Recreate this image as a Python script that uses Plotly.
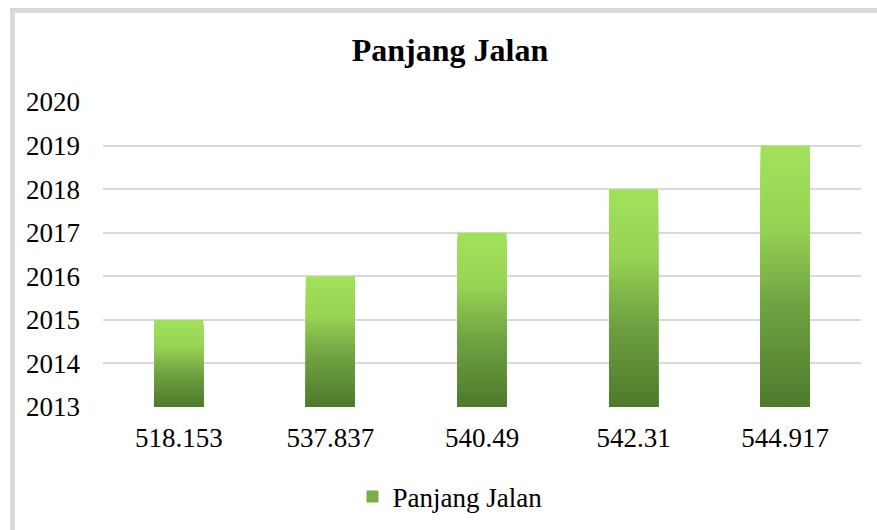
import plotly.graph_objects as go

categories = ["518.153", "537.837", "540.49", "542.31", "544.917"]
values = [2015, 2016, 2017, 2018, 2019]
axis_min = 2013
axis_max = 2020
tick_vals = [2013, 2014, 2015, 2016, 2017, 2018, 2019, 2020]
series_name = "Panjang Jalan"
title_text = "Panjang Jalan"

# gradient stops (position from top 0 -> bottom 1, rgb)
stops = [(0.0, (161, 225, 90)), (0.3, (150, 211, 84)), (0.6, (112, 163, 66)), (1.0, (78, 120, 44))]


def color_at(t):
    for (p0, c0), (p1, c1) in zip(stops[:-1], stops[1:]):
        if p0 <= t <= p1:
            f = (t - p0) / (p1 - p0) if p1 > p0 else 0
            c = [round(a + (b - a) * f) for a, b in zip(c0, c1)]
            return f"rgb({c[0]},{c[1]},{c[2]})"
    c = stops[-1][1]
    return f"rgb({c[0]},{c[1]},{c[2]})"


N = 60
fig = go.Figure()
bar_w = 0.323
# Layered bars: each layer starts at the axis base and is shorter than the previous,
# so colours blend from light (top) to dark (bottom) without gaps.
for k in range(N):
    frac = 1 - k / N
    heights = [(v - axis_min) * frac for v in values]
    fig.add_trace(go.Bar(
        x=categories, y=heights, base=[axis_min] * len(values), width=bar_w,
        marker=dict(color=color_at(k / N), line=dict(width=0)),
        showlegend=False, hoverinfo="skip",
    ))

# legend entry
fig.add_trace(go.Bar(
    x=[categories[0]], y=[0], base=[axis_min], name=series_name,
    marker=dict(color="rgb(120,175,70)", line=dict(width=0)),
    showlegend=True,
))

serif = "Liberation Serif, Times New Roman, serif"

fig.update_layout(
    width=877, height=530,
    margin=dict(l=103, r=16, t=102, b=123),
    paper_bgcolor="white", plot_bgcolor="white",
    barmode="overlay",
    font=dict(family=serif, size=27, color="black"),
    title=dict(text=f"<b>{title_text}</b>", x=450 / 877, xref="container", xanchor="center",
               y=1 - 50 / 530, yref="container", yanchor="middle",
               font=dict(family=serif, size=32, color="black")),
    xaxis=dict(type="category", showgrid=False, showline=False, ticks="",
               tickfont=dict(family=serif, size=27), ticklabelstandoff=12),
    yaxis=dict(range=[axis_min, axis_max], tickvals=tick_vals, showgrid=True,
               gridcolor="#D9D9D9", gridwidth=1.5, zeroline=False, showline=False,
               tickfont=dict(family=serif, size=27), ticklabelstandoff=22),
    legend=dict(orientation="h", x=450 / 877, xref="container", xanchor="center",
                y=1 - 497 / 530, yref="container", yanchor="middle",
                font=dict(family=serif, size=27), itemwidth=30),
    shapes=[dict(type="rect", xref="paper", yref="paper",
                 x0=(12.5 - 103) / 758, x1=(900 - 103) / 758,
                 y0=(407 - 560) / 305, y1=(407 - 10.5) / 305,
                 line=dict(color="#D9D9D9", width=5), layer="below")],
)

fig.write_html("out.html")
